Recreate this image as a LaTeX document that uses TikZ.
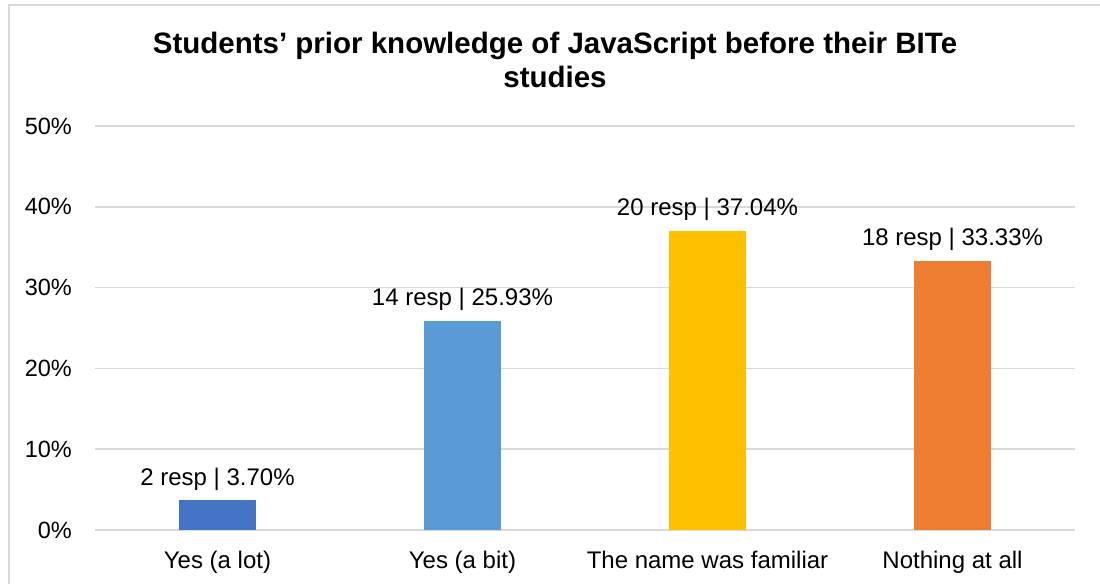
\documentclass[tikz,border=0pt]{standalone}
\usepackage{fontspec}
\setmainfont{Liberation Sans}
\definecolor{gridgray}{HTML}{D9D9D9}
\definecolor{barA}{HTML}{4472C4}
\definecolor{barB}{HTML}{5B9BD5}
\definecolor{barC}{HTML}{FFC000}
\definecolor{barD}{HTML}{ED7D31}
\begin{document}
\begin{tikzpicture}
[x=1pt, y=-1pt,
 grid/.style={draw=gridgray, line width=1.6pt},
 ticklab/.style={anchor=east, inner sep=0pt, font=\fontsize{23.5}{28}\selectfont},
 vallab/.style={anchor=base, inner sep=0pt, font=\fontsize{24}{28}\selectfont},
 catlab/.style={anchor=base, inner sep=0pt, font=\fontsize{24}{28}\selectfont},
 titlab/.style={anchor=base, inner sep=0pt, font=\bfseries\fontsize{29.5}{34}\selectfont}]
\useasboundingbox (0,0) rectangle (1100,584);
\draw[gridgray, line width=1.8pt] (9,584) -- (9,5) -- (1100,5);
% title
\node[titlab] (tline1) at (555,53) {Students’ prior knowledge of JavaScript before their BITe};
\node[titlab] (tline2) at (555,87) {studies};
% grid and axis labels
\draw[grid] (95,126) -- (1075,126);
\draw[grid] (95,206.8) -- (1075,206.8);
\draw[grid] (95,287.6) -- (1075,287.6);
\draw[grid] (95,368.4) -- (1075,368.4);
\draw[grid] (95,449.2) -- (1075,449.2);
\draw[grid] (95,530) -- (1075,530);
\node[ticklab] (t50) at (72,126) {50\%};
\node[ticklab] (t40) at (72,206.8) {40\%};
\node[ticklab] (t30) at (72,287.6) {30\%};
\node[ticklab] (t20) at (72,368.4) {20\%};
\node[ticklab] (t10) at (72,449.2) {10\%};
\node[ticklab] (t0) at (72,530) {0\%};
% bars
\fill[barA] (179,530) rectangle (256,500.1);
\fill[barB] (424,530) rectangle (501,320.5);
\fill[barC] (669,530) rectangle (746,230.7);
\fill[barD] (914,530) rectangle (991,260.7);
\node[vallab] (vA) at (217.5,485) {2 resp | 3.70\%};
\node[vallab] (vB) at (462.5,305.5) {14 resp | 25.93\%};
\node[vallab] (vC) at (707.5,215.5) {20 resp | 37.04\%};
\node[vallab] (vD) at (952.5,245.5) {18 resp | 33.33\%};
\node[catlab] (cA) at (217.5,568) {Yes (a lot)};
\node[catlab] (cB) at (462.5,568) {Yes (a bit)};
\node[catlab] (cC) at (707.5,568) {The name was familiar};
\node[catlab] (cD) at (952.5,568) {Nothing at all};
\end{tikzpicture}
\end{document}
